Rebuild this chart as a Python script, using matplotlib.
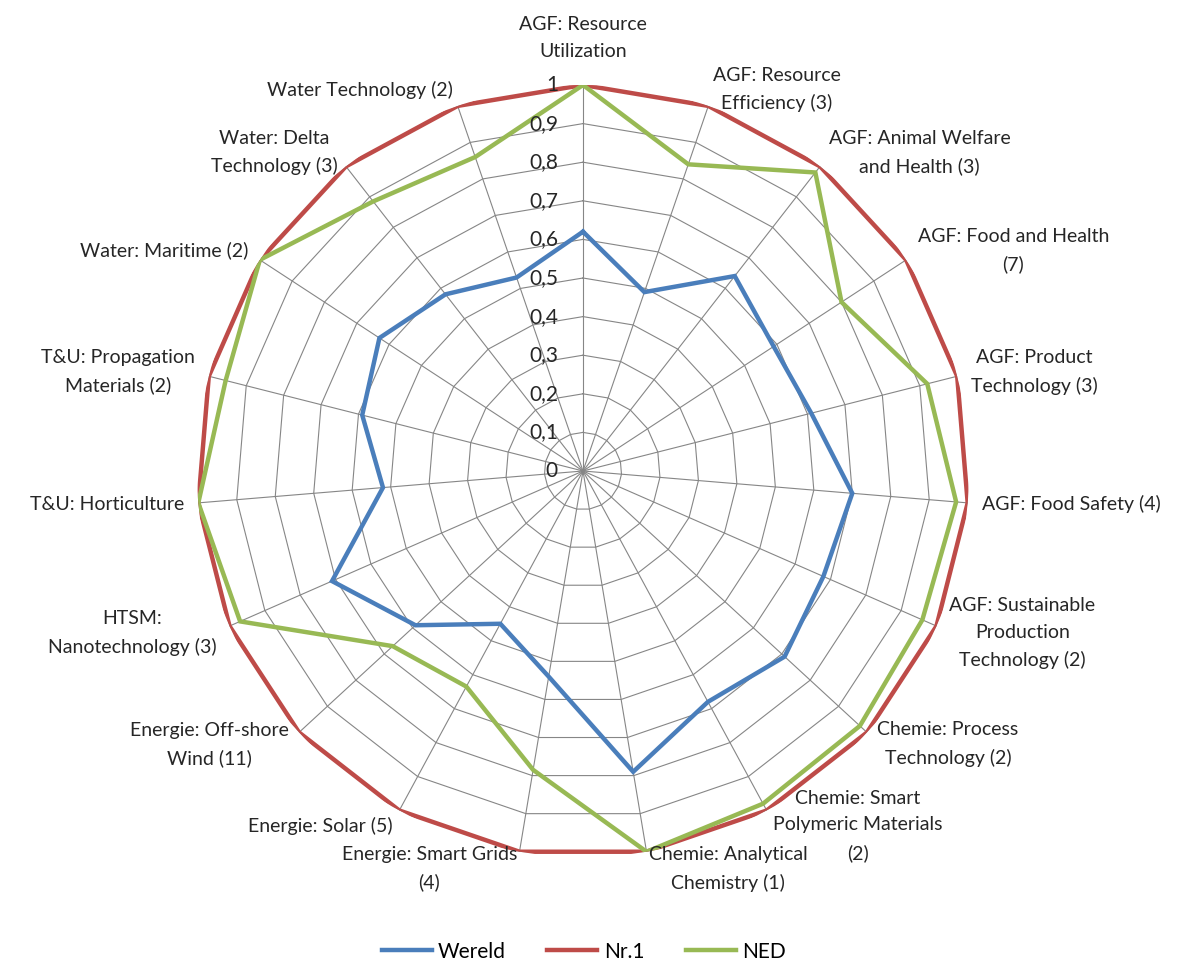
import numpy as np
import matplotlib
matplotlib.use("Agg")
import matplotlib.pyplot as plt

plt.rcParams['font.family'] = ['Lato', 'DejaVu Sans']

categories = ["AGF: Resource\nUtilization", "AGF: Resource\nEfficiency (3)",
              "AGF: Animal Welfare\nand Health (3)", "AGF: Food and Health\n(7)",
              "AGF: Product\nTechnology (3)", "AGF: Food Safety (4)",
              "AGF: Sustainable\nProduction\nTechnology (2)", "Chemie: Process\nTechnology (2)",
              "Chemie: Smart\nPolymeric Materials\n(2)", "Chemie: Analytical\nChemistry (1)",
              "Energie: Smart Grids\n(4)", "Energie: Solar (5)", "Energie: Off-shore\nWind (11)",
              "HTSM:\nNanotechnology (3)", "T&U: Horticulture", "T&U: Propagation\nMaterials (2)",
              "Water: Maritime (2)", "Water: Delta\nTechnology (3)", "Water Technology (2)"]

wereld = [0.62, 0.49, 0.64, 0.59, 0.61, 0.70, 0.68, 0.71, 0.68, 0.79,
          0.54, 0.45, 0.59, 0.71, 0.52, 0.59, 0.63, 0.58, 0.53]
nr1 = [1, 1, 1, 1, 1, 1, 1, 1, 1, 1, 1, 1, 1, 1, 1, 1, 1, 1, 1]
ned = [1.0, 0.84, 0.98, 0.80, 0.92, 0.97, 0.96, 0.975, 0.98, 1.0,
       0.785, 0.635, 0.67, 0.97, 1.0, 0.955, 1.0, 0.885, 0.86]

series = [("Wereld", wereld, '#4a7ebb'), ("Nr.1", nr1, '#be4b48'), ("NED", ned, '#98b954')]
ticks = [0, 0.1, 0.2, 0.3, 0.4, 0.5, 0.6, 0.7, 0.8, 0.9, 1]

n = len(categories)
theta = np.arange(n) * 2 * np.pi / n
theta_c = np.append(theta, theta[0])

fig = plt.figure(figsize=(11.84, 9.63), dpi=100)
cx, cy, R = 583 / 1184, 1 - 471 / 963, 386
ax = fig.add_axes([cx - R / 1184, cy - R / 963, 2 * R / 1184, 2 * R / 963], projection='polar')
ax.set_theta_zero_location('N')
ax.set_theta_direction(-1)
ax.set_ylim(0, 1)
ax.grid(False)
ax.set_xticks([])
ax.set_yticks([])
ax.spines['polar'].set_visible(False)
ax.patch.set_alpha(0)

grid_col = '#868686'
for t in ticks[1:]:
    ax.plot(theta_c, [t] * (n + 1), color=grid_col, lw=0.8, zorder=1)
for th in theta:
    ax.plot([th, th], [0, 1], color=grid_col, lw=0.8, zorder=1)

for name, vals, col in series:
    ax.plot(theta_c, list(vals) + [vals[0]], color=col, lw=3.2, label=name, zorder=3,
            solid_joinstyle='miter')

fs = 14
for th, lab in zip(theta, categories):
    s, c = np.sin(th), np.cos(th)
    if abs(s) < 0.05:
        ax.annotate(lab, xy=(th, 1), xytext=(0, 18), textcoords='offset points',
                    ha='center', va='bottom', fontsize=fs, linespacing=1.7,
                    multialignment='center', color='#262626')
        continue
    ha = 'left' if s > 0 else 'right'
    dx = 10 * s
    dy = 12.5 * c
    ax.annotate(lab, xy=(th, 1), xytext=(dx, dy), textcoords='offset points',
                ha=ha, va='center', fontsize=fs, linespacing=1.7,
                multialignment='center', color='#262626')

for t in ticks:
    txt = ('%g' % t).replace('.', ',')
    ax.annotate(txt, xy=(0, t), xytext=(-18, 0), textcoords='offset points',
                ha='right', va='center', fontsize=fs + 1, color='#262626')

fig.legend(loc='lower center', bbox_to_anchor=(0.493, -0.018), ncol=3, frameon=False,
           fontsize=fs + 1, handlelength=2.4, handletextpad=0.3, columnspacing=2.0)

fig.savefig('out.png', dpi=100)
